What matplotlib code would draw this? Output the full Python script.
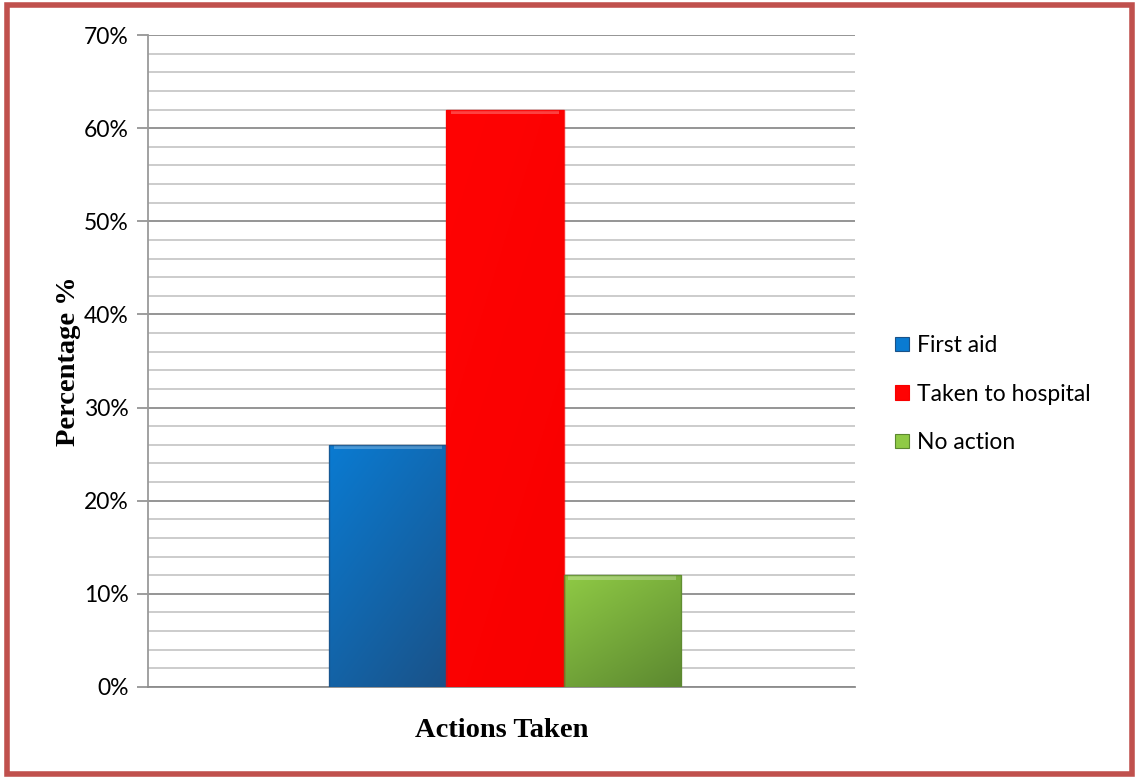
import numpy as np
import matplotlib
matplotlib.use("Agg")
import matplotlib.pyplot as plt
from matplotlib.patches import Patch, Rectangle
from matplotlib.colors import LinearSegmentedColormap
from matplotlib.ticker import MultipleLocator, FuncFormatter

# Data
categories = ["First aid", "Taken to hospital", "No action"]
values = [26, 62, 12]
# (top-left light, bottom-right dark) shading for each bar
colors_light = ["#0A7BD2", "#FF0303", "#8FCA45"]
colors_dark = ["#1A5288", "#F80000", "#5C8830"]

fig = plt.figure(figsize=(11.35, 7.78), dpi=100)
fig.patch.set_facecolor("white")

# page border
fig.add_artist(Rectangle((0.0066, 0.0045), 0.9908, 0.9885, transform=fig.transFigure,
                         fill=False, edgecolor="#C0504D", linewidth=4.0))

ax = fig.add_axes([0.1304, 0.1170, 0.6229, 0.8380])
ax.set_facecolor("white")

positions = np.arange(len(values))
bars = ax.bar(positions, values, width=1.0, color=colors_light, zorder=3,
              edgecolor="none")

# diagonal gradient fill clipped to each bar: light top-left, dark bottom-right
yy, xx = np.mgrid[0:1:200j, 0:1:200j]
grad = xx * 0.4 + yy * 0.6
for bar, c1, c2 in zip(bars, colors_light, colors_dark):
    x0 = bar.get_x()
    w = bar.get_width()
    h = bar.get_height()
    cmap = LinearSegmentedColormap.from_list("g", [c1, c2])
    im = ax.imshow(grad, extent=(x0, x0 + w, 0, h), origin="upper",
                   cmap=cmap, aspect="auto", zorder=3.5)
    im.set_clip_path(bar)
    # bevel highlight along the top edge
    ax.add_patch(Rectangle((x0 + 0.04, h - 0.5), w - 0.08, 0.5,
                           facecolor="white", alpha=0.25, edgecolor="none", zorder=4))
    ax.add_patch(Rectangle((x0, 0), w, h, fill=False,
                           edgecolor=c2, linewidth=1.0, alpha=0.8, zorder=4))

ax.set_xlim(-2.043, 3.984)
ax.set_ylim(0, 70)

ax.yaxis.set_major_locator(MultipleLocator(10))
ax.yaxis.set_minor_locator(MultipleLocator(2))
ax.yaxis.set_major_formatter(FuncFormatter(lambda v, p: f"{int(round(v))}%"))
ax.grid(which="major", axis="y", color="#8C8C8C", linewidth=1.3, zorder=1)
ax.grid(which="minor", axis="y", color="#C8C8C8", linewidth=1.3, zorder=1)
ax.tick_params(axis="y", which="major", length=8, width=1.2, color="#8C8C8C",
               labelsize=16.5, pad=6)
ax.tick_params(axis="y", which="minor", length=0)
ax.tick_params(axis="x", which="both", length=0, labelbottom=False)
for lab in ax.get_yticklabels():
    lab.set_fontfamily("Lato")

for s in ["top", "right"]:
    ax.spines[s].set_visible(False)
ax.spines["left"].set_color("#9A9A9A")
ax.spines["left"].set_linewidth(1.3)
ax.spines["bottom"].set_color("#8C8C8C")
ax.spines["bottom"].set_linewidth(1.3)

ax.set_ylabel("Percentage %", fontfamily="Liberation Serif", fontweight="bold",
              fontsize=20.5, labelpad=2)
ax.set_xlabel("Actions Taken", fontfamily="Liberation Serif", fontweight="bold",
              fontsize=20.5, labelpad=22)

handles = [Patch(facecolor=c1, edgecolor=c2, linewidth=0.8)
           for c1, c2 in zip(colors_light, colors_dark)]
leg = ax.legend(handles, categories, loc="center left",
                bbox_to_anchor=(1.028, 0.449), frameon=False,
                prop={"family": "Lato", "size": 16.5},
                handlelength=0.6, handleheight=0.6, handletextpad=0.35,
                labelspacing=1.2)

fig.savefig("out.png", dpi=100, facecolor="white")
